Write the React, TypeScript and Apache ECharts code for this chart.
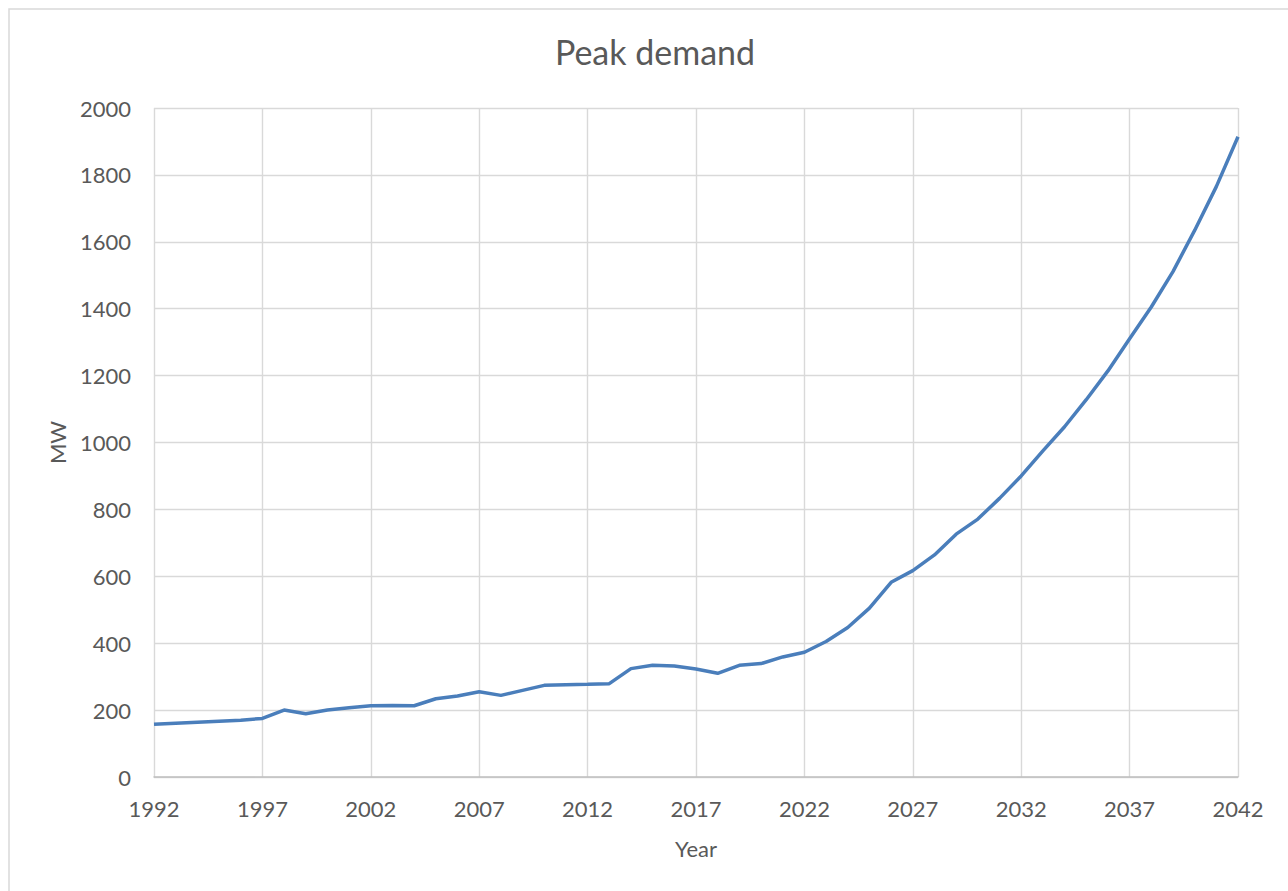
import React, { useEffect, useRef } from "react";
import * as echarts from "echarts";

const years: string[] = [
  "1992", "1993", "1994", "1995", "1996", "1997", "1998", "1999", "2000", "2001",
  "2002", "2003", "2004", "2005", "2006", "2007", "2008", "2009", "2010", "2011",
  "2012", "2013", "2014", "2015", "2016", "2017", "2018", "2019", "2020", "2021",
  "2022", "2023", "2024", "2025", "2026", "2027", "2028", "2029", "2030", "2031",
  "2032", "2033", "2034", "2035", "2036", "2037", "2038", "2039", "2040", "2041",
  "2042",
];

const peakDemand: number[] = [
  158, 161, 164, 167, 170, 175, 200, 189, 200, 207,
  213, 214, 213, 234, 242, 255, 244, 259, 274, 276,
  277, 279, 324, 334, 332, 323, 310, 334, 339, 359,
  373, 405, 447, 505, 582, 617, 664, 726, 771, 833,
  900, 975, 1047, 1128, 1214, 1310, 1405, 1511, 1634, 1765,
  1914,
];

const titleText = "Peak demand";
const xName = "Year";
const yName = "MW";

const FONT = "Lato, 'Open Sans', sans-serif";
const TEXT = "#595959";

export default function App() {
  const ref = useRef<HTMLDivElement>(null);
  useEffect(() => {
    document.body.style.margin = "0";
    if (!ref.current) return;
    const chart = echarts.init(ref.current, undefined, { renderer: "svg" });
    chart.setOption({
      animation: false,
      backgroundColor: "#ffffff",
      textStyle: { fontFamily: FONT },
      title: {
        text: titleText,
        left: 650,
        textAlign: "center",
        top: 29,
        textStyle: { fontFamily: FONT, fontSize: 34, fontWeight: "normal", color: TEXT },
      },
      graphic: [
        {
          type: "rect",
          shape: { x: 9, y: 9, width: 1300, height: 900 },
          style: { fill: "none", stroke: "#d9d9d9", lineWidth: 1.5 },
          silent: true,
        },
      ],
      grid: { left: 154, right: 50, top: 108, bottom: 114, containLabel: false },
      xAxis: {
        type: "category",
        data: years,
        boundaryGap: false,
        name: xName,
        nameLocation: "middle",
        nameGap: 60,
        nameTextStyle: { fontFamily: FONT, fontSize: 22, color: TEXT },
        axisLine: { show: true, lineStyle: { color: "#bfbfbf", width: 1.5 } },
        axisTick: { show: false },
        axisLabel: { interval: 4, margin: 20, fontFamily: FONT, fontSize: 22, color: TEXT },
        splitLine: { show: true, interval: 4, lineStyle: { color: "#d9d9d9", width: 1.4 } },
      },
      yAxis: {
        type: "value",
        min: 0,
        max: 2000,
        interval: 200,
        name: yName,
        nameLocation: "middle",
        nameRotate: 90,
        nameGap: 86,
        nameTextStyle: { fontFamily: FONT, fontSize: 22, color: TEXT },
        axisLine: { show: false },
        axisTick: { show: false },
        axisLabel: {
          margin: 23,
          fontFamily: FONT,
          fontSize: 22,
          color: TEXT,
          formatter: (v: number) => String(v),
        },
        splitLine: { show: true, lineStyle: { color: "#d9d9d9", width: 1.4 } },
      },
      series: [
        {
          type: "line",
          data: peakDemand,
          symbol: "none",
          smooth: false,
          lineStyle: { color: "#4a7ebb", width: 3.5 },
          itemStyle: { color: "#4a7ebb" },
        },
      ],
    });
    return () => chart.dispose();
  }, []);
  return <div ref={ref} style={{ width: 1288, height: 891 }} />;
}
